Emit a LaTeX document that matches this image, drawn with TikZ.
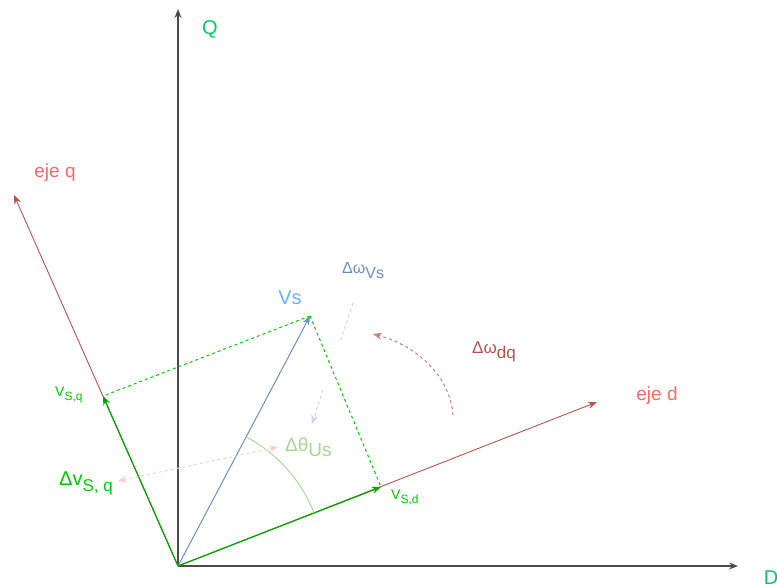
\documentclass[tikz,border=0pt]{standalone}
\usepackage{fontspec}
\setmainfont{Liberation Sans}
\usetikzlibrary{arrows.meta,calc}

\definecolor{axisred}{RGB}{184,84,80}
\definecolor{labelred}{RGB}{255,102,102}
\definecolor{compgreen}{RGB}{0,165,0}
\definecolor{projgreen}{RGB}{0,204,0}
\definecolor{qdgreen}{RGB}{0,204,102}
\definecolor{vsblue}{RGB}{108,142,191}
\definecolor{vslight}{RGB}{102,178,255}
\definecolor{lavender}{RGB}{204,204,255}
\definecolor{softpink}{RGB}{255,204,204}
\definecolor{softgreen}{RGB}{165,215,145}

\newcommand\lowtxt[2]{\raisebox{-#1}{#2}}
\newcommand\fsz[1]{\fontsize{#1}{#1}\selectfont}

\begin{document}
\begin{tikzpicture}[
  x=1pt, y=-1pt,
  >={Stealth[length=9pt,width=7pt]},
  axis/.style={draw=black!70, line width=1.3pt, ->},
  rot/.style={draw=axisred, line width=0.9pt, ->},
  comp/.style={draw=compgreen, line width=1.2pt, ->},
  proj/.style={draw=projgreen, line width=1pt, dash pattern=on 3pt off 3pt},
  lbl/.style={inner sep=0pt, anchor=west}
]
  \useasboundingbox (0,0) rectangle (777,588);

  % points
  \coordinate (O) at (178,566);
  \coordinate (Qtip) at (178,9);
  \coordinate (Dtip) at (738,566);
  \coordinate (qtip) at (14,195);
  \coordinate (dtip) at (597,402);
  \coordinate (vsq) at (103,396);
  \coordinate (vsd) at (381,487);
  \coordinate (vs) at (310,316);

  % fixed axes
  \draw[axis] (O) -- (Qtip);
  \draw[axis] (O) -- (Dtip);
  \node[font=\fsz{20}, text=qdgreen] (Qlbl) at (210,29) {Q};
  \node[font=\fsz{20}, text=qdgreen] (Dlbl) at (771,578) {D};

  % rotating axes
  \draw[rot] (O) -- (qtip);
  \draw[rot] (O) -- (dtip);
  \node[font=\fsz{19}, text=labelred] (ejeq) at (55,173) {eje q};
  \node[font=\fsz{19}, text=labelred] (ejed) at (657,396) {eje d};

  % voltage vector and its components
  \draw[proj] (vs) -- (vsq);
  \draw[proj] (vs) -- (vsd);
  \draw[draw=vsblue, line width=1pt, ->] (O) -- (vs);
  \draw[comp] (O) -- (vsq);
  \draw[comp] (O) -- (vsd);
  \node[font=\fsz{20}, text=vslight] (vslbl) at (290,298) {Vs};
  \node[lbl, font=\fsz{14}, text=projgreen] (vsqlbl) at (55,395)
    {V\lowtxt{4pt}{\fsz{12}S,q}};
  \node[lbl, font=\fsz{14}, text=projgreen] (vsdlbl) at (391,497)
    {V\lowtxt{4pt}{\fsz{12}S,d}};

  % angle between Vs and eje d
  \draw[draw=softgreen, line width=0.9pt]
    ($(O)+(-21.4:146)$) arc[start angle=-21.4, end angle=-62.2, radius=146];
  \node[lbl, font=\fsz{19}, text=softgreen] (dtheta) at (285,447)
    {Δθ\lowtxt{5pt}{Us}};

  % variations
  \coordinate (wa) at (353,303);
  \coordinate (wb) at (340,342);
  \coordinate (wc) at (323,390);
  \coordinate (wd) at (312,424);
  \draw[draw=lavender, line width=0.9pt, dash pattern=on 3pt off 3pt] (wa) -- (wb);
  \draw[draw=lavender, line width=0.9pt, dash pattern=on 3pt off 3pt, ->] (wc) -- (wd);
  \node[lbl, font=\fsz{16}, text=vsblue] (dwvs) at (342,271)
    {Δω\lowtxt{5pt}{Vs}};

  \coordinate (ra) at (453,415);
  \coordinate (rb) at (373,334);
  \draw[draw=axisred!75, line width=1pt, dash pattern=on 3pt off 3pt, ->]
    (ra) .. controls (450,375) and (415,345) .. (rb);
  \node[lbl, font=\fsz{17}, text=axisred] (dwdq) at (472,352)
    {Δω\lowtxt{5pt}{dq}};

  \coordinate (pa) at (118,481);
  \coordinate (pb) at (278,447);
  \draw[draw=softpink, line width=1pt, dash pattern=on 3pt off 3pt, <->] (pa) -- (pb);
  \node[lbl, font=\fsz{20}, text=projgreen] (dvsq) at (59,483)
    {Δv\lowtxt{6pt}{\fsz{17}S, q}};
\end{tikzpicture}
\end{document}
